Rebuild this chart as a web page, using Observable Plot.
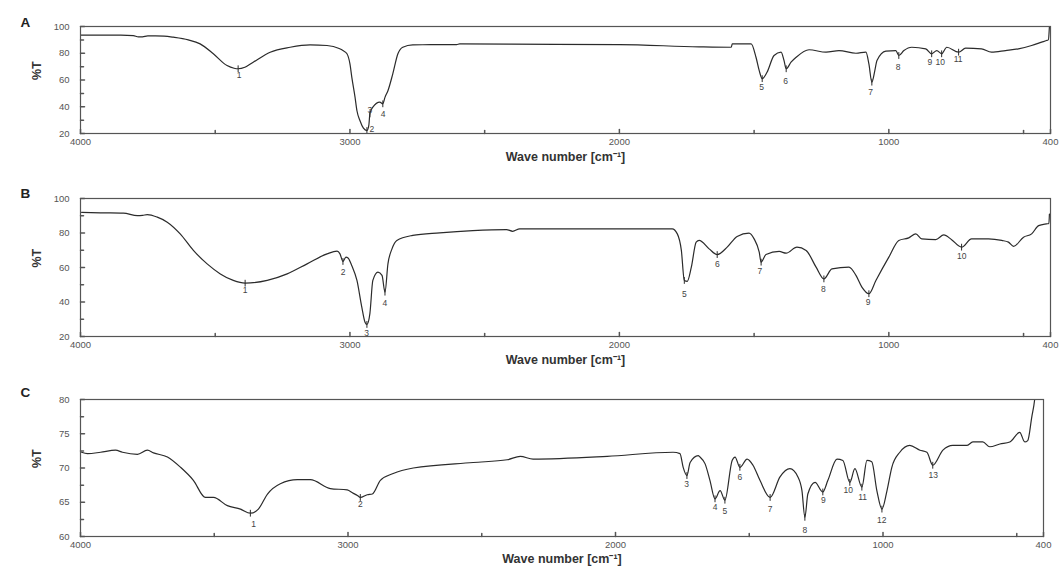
<!DOCTYPE html>
<html><head><meta charset="utf-8">
<script src="https://cdn.jsdelivr.net/npm/d3@7"></script>
<script src="https://cdn.jsdelivr.net/npm/@observablehq/plot@0.6"></script>
<style>
body{margin:0;background:#fff;}
#wrap{position:relative;width:1060px;height:567px;overflow:hidden;background:#fff}
#wrap svg{position:absolute;left:0}
</style></head><body><div id="wrap"></div>
<script>
// ---- shared axis ticks ----
const xMajor = [4000, 3000, 2000, 1000, 400];
const xMajorLabels = ["4000", "3000", "2000", "1000", "400"];
const xMinor = [3500, 2500, 1500, 500];
const xTitle = "Wave number [cm\u207B\u00B9]";
const yTitle = "%T";

// ---- Panel A ----
const aWn = [4000,3926,3850,3804,3785,3770,3750,3722,3690,3656,
  3600,3556,3507,3456,3430,3415,3390,3359,3296,3222,
  3148,3085,3040,3026,3011,3000,2993,2981,2974,2963,
  2950,2937,2930,2926,2915,2889,2878,2870,2859,2841,
  2822,2804,2767,2700,2604,2593,2400,2000,1704,1585,
  1581,1511,1493,1481,1470,1452,1426,1400,1389,1381,
  1363,1344,1296,1233,1185,1122,1085,1074,1063,1052,
  1044,1011,974,963,944,915,863,841,822,804,
  785,741,715,656,619,567,519,470,433,415,
  408,404];
const aT = [93.5,93.5,93.5,93.2,92.2,92.3,93,93,92.8,92,
  90,87,79.6,70.8,68.8,68.4,69.5,73.3,80.8,84.5,
  86.3,85.8,83.5,82,79.6,72,62,47,37,29.7,
  24,22.2,26,34.7,39.7,43.4,42.2,47,52,64.6,
  79.6,84.5,86.3,86.4,86.5,87,86.8,86.5,84.8,84.5,
  87,87,77,67,61,65.8,78.3,80.8,74.6,68.4,
  73.3,77,82.6,80.8,82,80,80.8,72,58.4,67,
  74.6,81.6,82,78.3,82,84.5,83.3,79.6,82,79.6,
  84.5,80.8,83.8,83.3,80.8,82,83.3,85.8,88.3,89.5,
  90,100];
const aLabels = ["1","2","3","4","5","6","7","8","9","10","11"];
const aLabWn = [3411,2919,2926,2877,1472,1383,1068,966,848,809,743];
const aLabT  = [63.4,23,37.2,34.7,54.2,59.1,50.9,69.6,73.3,73.3,75.8];
const aPkWn  = [3415,2937,2926,2878,1470,1381,1063,963,841,804,741];
const aPkT   = [68.4,22.2,34.7,42.2,61,68.4,58.4,78.3,79.6,79.6,80.8];

// ---- Panel B ----
const bWn = [3996,3926,3841,3789,3770,3752,3715,3678,3630,3581,
  3530,3481,3433,3389,3307,3233,3159,3085,3048,3037,
  3026,3015,3007,2993,2974,2956,2944,2937,2926,2915,
  2896,2881,2870,2859,2844,2826,2767,2667,2544,2419,
  2396,2370,2174,1804,1785,1770,1759,1748,1733,1715,
  1704,1667,1637,1600,1563,1519,1500,1481,1474,1456,
  1407,1381,1341,1307,1270,1241,1211,1148,1122,1100,
  1074,1048,1000,963,926,900,878,826,796,767,
  730,693,630,581,556,537,500,470,444,415,
  406,404];
const bT = [92,91.7,91.5,90.1,90.2,90.7,89.2,86.3,79.5,69.9,
  62.1,56.3,52.5,50.9,52.5,56.3,62.1,67.9,69.5,67.9,
  63.5,66,65.5,61,52.5,37,28.3,27,33.3,52.5,
  57.3,55.4,45.7,62.1,70.8,75.7,78.6,80.1,81.4,82,
  81,82.4,82.4,82.4,79.5,69.9,52.5,52,60.2,74.7,
  75.7,70.8,67.5,71.8,78,79.9,76.6,68.9,63.1,67.5,
  69.3,68.3,71.8,69.9,60.2,53.4,59.2,60.2,55.4,48.6,
  44.8,52.5,66,75.7,77.2,79.5,76.6,76.2,78.9,76.1,
  71.8,76.6,76.6,75.7,74.7,72.2,77.6,79.5,84.3,85.3,
  85.5,91];
const bLabels = ["1","2","3","4","5","6","7","8","9","10"];
const bLabWn = [3389,3025,2938,2870,1759,1636,1479,1243,1077,729];
const bLabT  = [46.7,57.3,21.6,39,44.7,62.1,57.9,47.6,39.9,66.4];
const bPkWn  = [3389,3026,2937,2870,1759,1637,1474,1241,1074,730];
const bPkT   = [50.9,63.5,27,45.7,52.5,67.5,63.1,53.4,44.8,71.8];

// ---- Panel C ----
const cWn = [3996,3974,3925,3869,3843,3787,3750,3727,3675,3626,
  3578,3533,3503,3451,3402,3365,3335,3301,3253,3189,
  3141,3066,3003,2980,2965,2954,2928,2909,2879,2831,
  2756,2532,2405,2356,2308,2031,1785,1759,1747,1733,
  1721,1691,1684,1665,1647,1628,1609,1591,1564,1553,
  1535,1508,1486,1460,1422,1385,1348,1318,1303,1292,
  1281,1254,1225,1206,1172,1150,1124,1105,1079,1060,
  1042,1023,1004,985,967,937,900,862,836,814,
  776,739,687,664,627,601,563,526,489,470,
  459,444,433,428];
const cT = [72.3,72.1,72.3,72.6,72.3,72,72.6,72.2,71.6,70.1,
  68.2,65.7,65.7,64.5,64,63.4,64,66.2,67.7,68.3,
  68.3,67,66.8,66.3,66,65.7,66.1,66.2,68.2,69.2,
  70,70.8,71.2,71.7,71.3,71.7,72.3,72.1,70.1,68.9,
  70.8,71.8,71.6,70.6,68.2,65.5,66.7,65.3,71.1,71.6,
  70.1,71.3,70.4,68.2,65.7,68.7,69.9,68.7,66.7,62.8,
  66.2,67.9,66.5,68.2,71.3,71.1,67.9,69.9,67.2,71.1,
  70.9,66.7,64,66.7,70.1,72.3,73.3,72.6,72.3,70.4,
  72.6,73.3,73.3,73.8,73.8,73.1,73.5,73.8,75.2,73.8,
  74,77.4,80,82];
const cLabels = ["1","2","3","4","5","6","7","8","9","10","11","12","13"];
const cLabWn = [3353,2954,1734,1628,1591,1535,1422,1292,1223,1130,1076,1005,812];
const cLabT  = [61.8,64.7,67.6,64.2,63.7,68.7,64,60.9,65.3,66.7,65.8,62.3,69];
const cPkWn  = [3365,2954,1733,1628,1591,1535,1422,1292,1225,1124,1079,1004,814];
const cPkT   = [63.4,65.7,68.9,65.5,65.3,70.1,65.7,62.8,66.5,67.9,67.2,64,70.4];

// ---- y ticks ----
const abYMajor = [20, 40, 60, 80, 100];
const abYMinor = [30, 50, 70, 90];
const cYMajor = [60, 65, 70, 75, 80];
const cYMinor = [62.5, 67.5, 72.5, 77.5];

const tickShape = {draw(ctx, l) { ctx.moveTo(0, 0); ctx.lineTo(0, -l); }};
const LINE = "#2b2b2b", AX = "#555";

function panel(o) {
  const spec = d3.range(o.wn.length).map(i => ({wn: o.wn[i], t: o.t[i]}));
  const labs = d3.range(o.labels.length).map(i => ({wn: o.labWn[i], t: o.labT[i], s: o.labels[i], pw: o.pkWn[i], pt: o.pkT[i]}));
  const svg = Plot.plot({
    width: 1060, height: o.height,
    marginLeft: 80, marginRight: o.marginRight, marginTop: 26, marginBottom: o.marginBottom,
    style: {fontFamily: "'Liberation Sans', Arial, sans-serif", fontSize: "9.5px", background: "white", color: "#444", overflow: "visible"},
    x: {domain: [4000, 400]},
    y: {domain: o.yDomain},
    marks: [
      Plot.axisX({ticks: xMajor, tickSize: 0, tickPadding: 5, tickFormat: d => xMajorLabels[xMajor.indexOf(d)], label: null, fill: "#555"}),
      Plot.axisY({ticks: o.yMajor, tickSize: 0, tickPadding: 11, label: null, fill: "#555"}),
      Plot.vector(xMajor, {x: d => d, frameAnchor: "bottom", length: 4, anchor: "start", shape: tickShape, stroke: AX}),
      Plot.vector(xMinor, {x: d => d, frameAnchor: "bottom", length: 3, anchor: "start", shape: tickShape, stroke: AX}),
      Plot.vector(o.yMajor, {y: d => d, frameAnchor: "left", length: 4, rotate: 90, anchor: "start", shape: tickShape, stroke: AX}),
      Plot.vector(o.yMinor, {y: d => d, frameAnchor: "left", length: 3, rotate: 90, anchor: "start", shape: tickShape, stroke: AX}),
      Plot.line(spec, {x: "wn", y: "t", stroke: LINE, strokeWidth: 1.2, curve: "monotone-x", clip: true}),
      Plot.vector(labs, {x: "pw", y: "pt", length: 6, anchor: "middle", shape: tickShape, stroke: LINE, strokeWidth: 1}),
      Plot.text(labs, {x: "wn", y: "t", text: "s", fontSize: 8.5, fill: "#444"}),
      Plot.frame({stroke: AX, strokeWidth: 1.2}),
      Plot.text([xTitle], {frameAnchor: "bottom", dy: o.xTitleDy, fontWeight: "bold", fontSize: 12.5, fill: "#333"}),
      Plot.text([yTitle], {frameAnchor: "left", dx: -44, rotate: -90, fontWeight: "bold", fontSize: 12.5, fill: "#333"}),
      Plot.text([o.letter], {frameAnchor: "top-left", dx: -60, dy: o.letterDy, fontWeight: "bold", fontSize: 13.5, fill: "#222"})
    ]
  });
  svg.style.top = o.top + "px";
  document.getElementById("wrap").appendChild(svg);
}

panel({wn: aWn, t: aT, labels: aLabels, labWn: aLabWn, labT: aLabT, pkWn: aPkWn, pkT: aPkT,
  yDomain: [20, 100], yMajor: abYMajor, yMinor: abYMinor, letter: "A",
  top: 0, height: 172, marginBottom: 39, marginRight: 10, xTitleDy: 27, letterDy: -9});
panel({wn: bWn, t: bT, labels: bLabels, labWn: bLabWn, labT: bLabT, pkWn: bPkWn, pkT: bPkT,
  yDomain: [20, 100], yMajor: abYMajor, yMinor: abYMinor, letter: "B",
  top: 172, height: 201, marginBottom: 37, marginRight: 10, xTitleDy: 27, letterDy: -10});
panel({wn: cWn, t: cT, labels: cLabels, labWn: cLabWn, labT: cLabT, pkWn: cPkWn, pkT: cPkT,
  yDomain: [60, 80], yMajor: cYMajor, yMinor: cYMinor, letter: "C",
  top: 373, height: 194, marginBottom: 31, marginRight: 17, xTitleDy: 26, letterDy: -12});
</script></body></html>
